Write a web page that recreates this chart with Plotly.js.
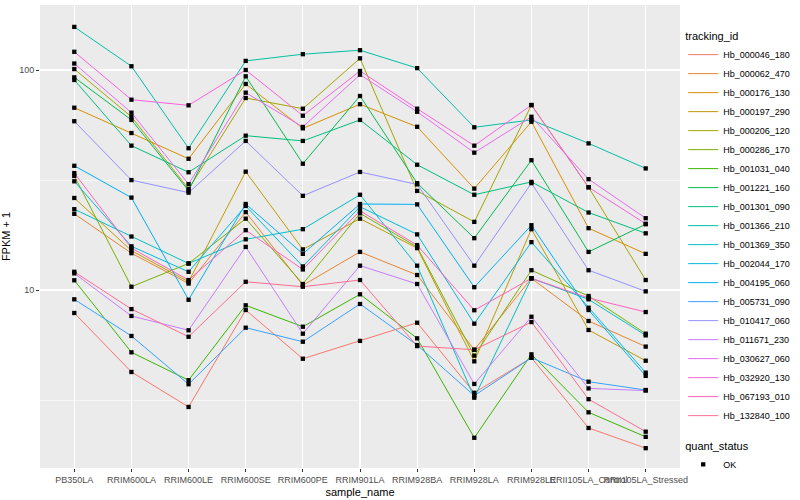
<!DOCTYPE html>
<html><head><meta charset="utf-8">
<script src="https://cdn.plot.ly/plotly-3.0.1.min.js"></script>
<style>html,body{margin:0;padding:0;background:#fff}#chart{width:800px;height:500px}</style>
</head><body><div id="chart"></div>
<script>
const samples = ['PB350LA','RRIM600LA','RRIM600LE','RRIM600SE','RRIM600PE','RRIM901LA','RRIM928BA','RRIM928LA','RRIM928LE','RRII105LA_Control','RRII105LA_Stressed'];
const trackingIds = ['Hb_000046_180','Hb_000062_470','Hb_000176_130','Hb_000197_290','Hb_000206_120','Hb_000286_170','Hb_001031_040','Hb_001221_160','Hb_001301_090','Hb_001366_210','Hb_001369_350','Hb_002044_170','Hb_004195_060','Hb_005731_090','Hb_010417_060','Hb_011671_230','Hb_030627_060','Hb_032920_130','Hb_067193_010','Hb_132840_100'];

// FPKM + 1 per sample
const Hb_000046_180 = [7.86, 4.24, 2.94, 8.11, 4.87, 5.87, 7.10, 3.41, 4.92, 2.36, 1.91];
const Hb_000062_470 = [22.2, 14.7, 10.7, 22.6, 10.5, 14.9, 11.7, 5.35, 11.3, 7.23, 5.53];
const Hb_000176_130 = [67.4, 51.7, 39.5, 86.4, 54.3, 69.9, 55.2, 28.9, 58.2, 19.1, 14.6];
const Hb_000197_290 = [26.2, 15.1, 10.9, 34.5, 15.3, 21.1, 15.5, 4.74, 18.9, 6.58, 4.77];
const Hb_000206_120 = [101, 61.3, 28.8, 74.6, 66.7, 113, 28.2, 20.4, 69.3, 29.3, 11.1];
const Hb_000286_170 = [33.0, 10.35, 13.2, 21.1, 10.65, 22.3, 15.7, 5.03, 12.3, 9.39, 6.33];
const Hb_001031_040 = [11.07, 5.21, 3.89, 8.52, 6.81, 9.56, 6.03, 2.13, 5.10, 2.78, 2.15];
const Hb_001221_160 = [92.6, 59.3, 28.3, 93.6, 37.5, 76.2, 30.6, 17.2, 38.9, 14.9, 19.9];
const Hb_001301_090 = [90.1, 45.3, 34.3, 50.3, 47.6, 59.3, 37.1, 27.1, 31.0, 22.5, 18.1];
const Hb_001366_210 = [157, 104, 44.1, 110, 118, 123, 102, 54.9, 59.3, 46.4, 35.7];
const Hb_001369_350 = [23.3, 17.5, 13.2, 17.0, 18.9, 27.1, 12.9, 3.24, 11.3, 9.07, 6.22];
const Hb_002044_170 = [31.2, 15.8, 12.1, 24.1, 12.8, 23.9, 17.9, 7.03, 16.5, 8.31, 4.21];
const Hb_004195_060 = [36.7, 26.3, 9.03, 24.6, 14.6, 24.6, 24.5, 10.3, 19.7, 8.11, 4.07];
const Hb_005731_090 = [9.07, 6.18, 3.73, 6.74, 5.82, 8.64, 5.62, 3.31, 4.92, 3.83, 3.51];
const Hb_010417_060 = [58.5, 31.6, 27.7, 47.6, 26.8, 34.4, 30.2, 12.9, 30.6, 12.3, 9.86];
const Hb_011671_230 = [11.9, 7.62, 6.56, 15.7, 6.33, 12.9, 10.65, 3.74, 7.56, 3.57, 3.49];
const Hb_030627_060 = [107, 64.0, 30.3, 78.9, 55.1, 95.2, 64.6, 42.1, 61.3, 31.9, 21.2];
const Hb_032920_130 = [121, 73.3, 69.1, 100, 62.0, 99, 66.7, 45.3, 69.3, 29.3, 20.0];
const Hb_067193_010 = [34.0, 15.5, 11.1, 18.7, 12.4, 22.9, 16.0, 8.09, 11.3, 9.20, 7.94];
const Hb_132840_100 = [12.1, 8.19, 6.13, 10.9, 10.35, 11.1, 5.56, 5.35, 7.15, 3.19, 2.27];

const seriesValues = [Hb_000046_180, Hb_000062_470, Hb_000176_130, Hb_000197_290, Hb_000206_120, Hb_000286_170, Hb_001031_040, Hb_001221_160, Hb_001301_090, Hb_001366_210, Hb_001369_350, Hb_002044_170, Hb_004195_060, Hb_005731_090, Hb_010417_060, Hb_011671_230, Hb_030627_060, Hb_032920_130, Hb_067193_010, Hb_132840_100];
const quantStatus = ['OK'];

const colors = ['#F8766D','#EA8331','#D89000','#C09B00','#A3A500','#7CAE00','#39B600','#00BB4E','#00BF7D','#00C1A3','#00BFC4','#00BAE0','#00B0F6','#35A2FF','#9590FF','#C77CFF','#E76BF3','#FA62DB','#FF62BC','#FF6C91'];

const FONT = 'Liberation Sans, Arial, sans-serif';
const traces = trackingIds.map((id, i) => ({
  type: 'scatter', mode: 'lines', name: id,
  x: samples, y: seriesValues[i],
  line: {color: colors[i], width: 1},
  legend: 'legend'
}));

const ptsX = [], ptsY = [];
seriesValues.forEach(v => v.forEach((val, j) => { ptsX.push(samples[j]); ptsY.push(val); }));
traces.push({
  type: 'scatter', mode: 'markers', name: quantStatus[0],
  x: ptsX, y: ptsY,
  marker: {color: '#000', symbol: 'square', size: 4.3},
  legend: 'legend2'
});

const layout = {
  width: 800, height: 500,
  margin: {l: 40, r: 116, t: 5, b: 32},
  paper_bgcolor: '#fff', plot_bgcolor: '#EBEBEB',
  font: {family: FONT, size: 9, color: '#000'},
  showlegend: true,
  xaxis: {
    type: 'category', categoryorder: 'array', categoryarray: samples,
    range: [-0.6, 10.6], tickangle: 0,
    showgrid: true, gridcolor: '#fff', gridwidth: 1.1, zeroline: false, showline: false,
    ticks: 'outside', ticklen: 3, tickcolor: '#333', tickwidth: 1,
    tickfont: {family: FONT, size: 9, color: '#4D4D4D'},
    title: {text: 'sample_name', font: {family: FONT, size: 11, color: '#000'}, standoff: 4}
  },
  yaxis: {
    type: 'log', range: [0.1909, 2.2955],
    tickvals: [10, 100], ticktext: ['10', '100'],
    showgrid: true, gridcolor: '#fff', gridwidth: 1.1, zeroline: false, showline: false,
    minor: {tickvals: [3.1623, 31.623], showgrid: true, gridcolor: '#fff', gridwidth: 0.6, ticks: ''},
    ticks: 'outside', ticklen: 3, tickcolor: '#333', tickwidth: 1,
    tickfont: {family: FONT, size: 9, color: '#4D4D4D'},
    title: {text: 'FPKM + 1', font: {family: FONT, size: 11, color: '#000'}, standoff: 6}
  },
  legend: {
    x: 1.005, xanchor: 'left', y: 0.955, yanchor: 'top',
    bgcolor: 'rgba(0,0,0,0)', itemwidth: 30,
    title: {text: 'tracking_id', font: {family: FONT, size: 11, color: '#000'}},
    font: {family: FONT, size: 9, color: '#000'}
  },
  legend2: {
    x: 1.005, xanchor: 'left', y: 0.07, yanchor: 'top',
    bgcolor: 'rgba(0,0,0,0)', itemwidth: 30,
    title: {text: 'quant_status', font: {family: FONT, size: 11, color: '#000'}},
    font: {family: FONT, size: 9, color: '#000'}
  }
};

Plotly.newPlot('chart', traces, layout, {staticPlot: true});
</script>
</body></html>
